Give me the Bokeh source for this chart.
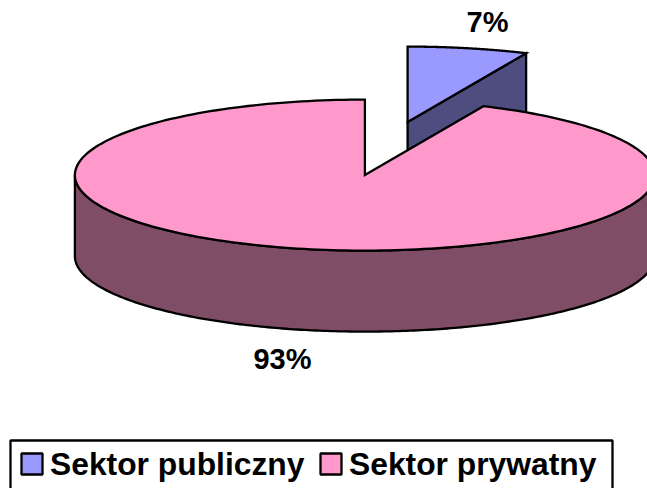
import math
from bokeh.plotting import figure
from bokeh.models import Range1d
from bokeh.core.properties import value
from bokeh.embed import file_html
from bokeh.resources import INLINE

categories = ["Sektor publiczny", "Sektor prywatny"]
shares = [6.7, 93.3]
labels = ["7%", "93%"]
top_colors = ["#9999FF", "#FF99CC"]
wall_colors = ["#4D4D80", "#804D66"]

FONT = value("Liberation Sans")
CX, CY, RX, RY, DEPTH = 364.4, 174.6, 290.0, 75.5, 81.0
EXPLODE_X, EXPLODE_Y = 42.7, -53.0
LW = 2.3


def pt(t, cx=CX, cy=CY):
    a = math.radians(t)
    return cx + RX * math.sin(a), cy - RY * math.cos(a)


def arc(t0, t1, cx=CX, cy=CY, n=240):
    pts = [pt(t0 + (t1 - t0) * i / n, cx, cy) for i in range(n + 1)]
    return [q[0] for q in pts], [q[1] for q in pts]


p = figure(width=647, height=488, x_range=Range1d(0, 647), y_range=Range1d(488, 0),
           x_axis_type=None, y_axis_type=None, toolbar_location=None,
           output_backend="svg", min_border=0, outline_line_color=None)
p.grid.visible = False
p.background_fill_color = "white"
p.border_fill_color = "white"

sweep = shares[0] / sum(shares) * 360.0

# exploded public slice: cut wall first, then its top
ax, ay = CX + EXPLODE_X, CY + EXPLODE_Y
ex, ey = pt(sweep, ax, ay)
style = dict(line_color="black", line_width=LW, line_join="miter")
p.patch([ax, ex, ex, ax], [ay, ey, ey + DEPTH, ay + DEPTH], fill_color=wall_colors[0], **style)
xs, ys = arc(0, sweep, ax, ay)
p.patch([ax] + xs, [ay] + ys, fill_color=top_colors[0], **style)

# private slice: visible outer wall, then its top
xs, ys = arc(90, 270)
p.patch(xs + xs[::-1], ys + [y + DEPTH for y in ys[::-1]], fill_color=wall_colors[1], **style)
xs, ys = arc(sweep, 360)
p.patch([CX] + xs, [CY] + ys, fill_color=top_colors[1], **style)

# data labels
p.text([487], [21], text=[labels[0]], text_font=FONT, text_font_size="29px", text_font_style="bold",
       text_align="center", text_baseline="middle", text_color="black")
p.text([282], [358], text=[labels[1]], text_font=FONT, text_font_size="29px", text_font_style="bold",
       text_align="center", text_baseline="middle", text_color="black")

# legend
p.quad(left=[10], right=[612], top=[440], bottom=[500], fill_color="white", line_color="black", line_width=2.3)
for x0, cat, col in zip([21, 320], categories, top_colors):
    p.quad(left=[x0], right=[x0 + 21], top=[453], bottom=[474], fill_color=col, line_color="black", line_width=2.3)
    p.text([x0 + 28.5], [463], text=[cat], text_font=FONT, text_font_size="31.8px", text_font_style="bold",
           text_align="left", text_baseline="middle", text_color="black")

open("out.html", "w").write(file_html(p, INLINE))
